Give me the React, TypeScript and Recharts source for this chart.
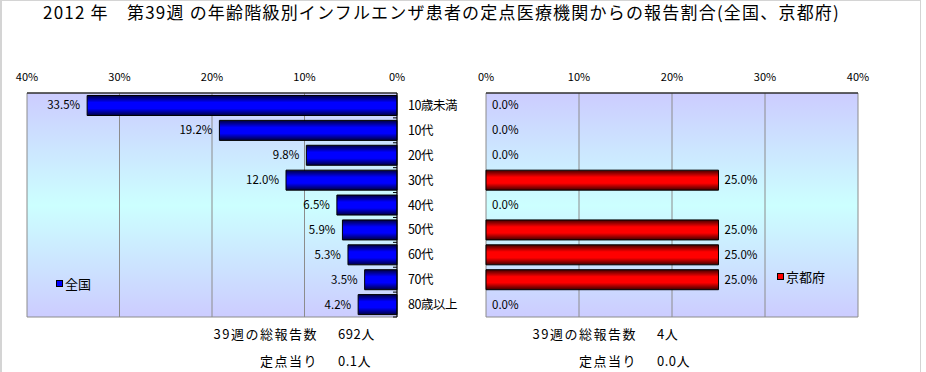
import { BarChart, Bar, XAxis, YAxis, CartesianGrid, LabelList, Legend, Cell } from "recharts";

const ageGroups = ["10歳未満", "10代", "20代", "30代", "40代", "50代", "60代", "70代", "80歳以上"];
const nationalPct = [33.5, 19.2, 9.8, 12.0, 6.5, 5.9, 5.3, 3.5, 4.2];
const kyotoPct = [0, 0, 0, 25.0, 0, 25.0, 25.0, 25.0, 0];
const pctTicks = [0, 10, 20, 30, 40];

const weekNo = 39;
const nationalTotal = "692";
const nationalPerSite = "0.1";
const kyotoTotal = "4";
const kyotoPerSite = "0.0";

const nationalData = ageGroups.map((age, i) => ({ age, value: nationalPct[i] }));
const kyotoData = ageGroups.map((age, i) => ({ age, value: kyotoPct[i] }));

const FONT = '"Noto Sans CJK JP", "Noto Sans", sans-serif';
const CHART_H = 372;
const M_TOP = 63;
const AXIS_H = 30;
const M_BOTTOM = 55;
const BAND = (CHART_H - M_TOP - AXIS_H - M_BOTTOM) / ageGroups.length;

const fmt = (v: number) => `${v.toFixed(1)}%`;

function BgGradient({ id }: { id: string }) {
  return (
    <linearGradient id={id} x1="0" y1="0" x2="0" y2="1">
      <stop offset="0%" stopColor="#CCCCFF" />
      <stop offset="50%" stopColor="#CCFFFF" />
      <stop offset="100%" stopColor="#CCCCFF" />
    </linearGradient>
  );
}

function BarGradient({ id, dark, main }: { id: string; dark: string; main: string }) {
  return (
    <linearGradient id={id} x1="0" y1="0" x2="0" y2="1">
      <stop offset="0%" stopColor={dark} />
      <stop offset="35%" stopColor={main} />
      <stop offset="65%" stopColor={main} />
      <stop offset="100%" stopColor={dark} />
    </linearGradient>
  );
}

function boxOf(p: any) {
  const vb = p.viewBox ?? p;
  return { x: Number(vb.x), y: Number(vb.y), w: Number(vb.width), h: Number(vb.height) };
}

function LeftLabel(p: any) {
  const { x, y, w, h } = boxOf(p);
  return (
    <text x={Math.min(x, x + w) - 7} y={y + h / 2} dy={4} textAnchor="end" fontSize={11.5} fill="#000" fontFamily={FONT}>
      {fmt(Number(p.value))}
    </text>
  );
}

function RightLabel(p: any) {
  const { x, y, w, h } = boxOf(p);
  return (
    <text x={Math.max(x, x + w) + 6} y={y + h / 2} dy={4} textAnchor="start" fontSize={11.5} fill="#000" fontFamily={FONT}>
      {fmt(Number(p.value))}
    </text>
  );
}

// category labels on the right of the left chart + boundary tick marks inside the plot
function AgeTick(p: any) {
  const ax = p.x - 11;
  return (
    <g>
      <line x1={ax - 4} x2={ax} y1={p.y + BAND / 2} y2={p.y + BAND / 2} stroke="#000" />
      <text x={p.x} y={p.y} dy={4.5} fontSize={12.5} letterSpacing={-0.5} fill="#000" fontFamily={FONT}>
        {p.payload.value}
      </text>
    </g>
  );
}

function BoundaryTick(p: any) {
  return <line x1={p.x} x2={p.x + 5} y1={p.y + BAND / 2} y2={p.y + BAND / 2} stroke="#000" />;
}

function SwatchLegend({ payload, swatch }: any) {
  const item = payload?.[0];
  return (
    <div style={{ display: "flex", alignItems: "center", fontSize: 13, color: "#000", fontFamily: FONT, whiteSpace: "nowrap" }}>
      <span style={{ width: 5, height: 5, background: swatch, border: "1px solid #000", marginRight: 2 }} />
      {item?.value}
    </div>
  );
}

const borderRows = ({ offset }: any) => [offset.top, offset.top + offset.height];

const axisTick = { fontSize: 11, fill: "#000", fontFamily: FONT };

function Summary({ right, top, label, value }: { right: number; top: number; label: string; value: string }) {
  return (
    <>
      <div style={{ position: "absolute", left: right - 200, width: 200, top, textAlign: "right", fontSize: 13, letterSpacing: 1.5 }}>
        {label}
      </div>
      <div style={{ position: "absolute", left: right + 20, top, fontSize: 13, letterSpacing: 0.5 }}>{value}</div>
    </>
  );
}

export default function App() {
  return (
    <div
      style={{
        position: "absolute", left: 0, top: 0, width: 926, height: 372, background: "#fff",
        fontFamily: FONT, color: "#000", overflow: "hidden",
      }}
    >
      <div style={{ position: "absolute", left: 0, top: 0, width: 918, height: 380, borderLeft: "2px solid #d4d4d4", borderTop: "1px solid #d4d4d4", borderRight: "1px solid #d4d4d4" }} />
      <div style={{ position: "absolute", left: 43, top: -1, fontSize: 17, letterSpacing: 1.2, whiteSpace: "pre" }}>
        {`2012 年　第${weekNo}週 の年齢階級別インフルエンザ患者の定点医療機関からの報告割合(全国、京都府)`}
      </div>

      <div style={{ position: "absolute", left: 0, top: 0 }}>
        <BarChart width={470} height={CHART_H} data={nationalData} layout="vertical"
          margin={{ top: M_TOP, right: 0, bottom: M_BOTTOM, left: 27 }} barCategoryGap="10%">
          <defs>
            <BgGradient id="bgL" />
            <BarGradient id="barBlue" dark="#000040" main="#0000FF" />
          </defs>
          <CartesianGrid fill="url(#bgL)" stroke="#8c8c8c" horizontalCoordinatesGenerator={borderRows} />
          <XAxis type="number" orientation="top" domain={[0, 40]} ticks={pctTicks} reversed interval={0}
            height={AXIS_H} tickFormatter={(v) => `${v}%`} tick={axisTick} tickLine={false} tickMargin={6}
            axisLine={{ stroke: "#000" }} />
          <YAxis type="category" dataKey="age" orientation="right" width={73} tickSize={0} tickMargin={11}
            tickLine={false} tick={<AgeTick />} axisLine={{ stroke: "#000" }} interval={0} />
          <Legend layout="horizontal" verticalAlign="middle" align="center"
            wrapperStyle={{ left: 56, top: 274, width: "auto" }} content={<SwatchLegend swatch="#0000FF" />} />
          <Bar dataKey="value" name="全国" fill="url(#barBlue)" stroke="#000" strokeWidth={1} isAnimationActive={false}>
            <LabelList dataKey="value" content={<LeftLabel />} />
          </Bar>
        </BarChart>
      </div>

      <div style={{ position: "absolute", left: 470, top: 0 }}>
        <BarChart width={456} height={CHART_H} data={kyotoData} layout="vertical"
          margin={{ top: M_TOP, right: 68, bottom: M_BOTTOM, left: 16 }} barCategoryGap="10%">
          <defs>
            <BgGradient id="bgR" />
            <BarGradient id="barRed" dark="#400000" main="#FF0000" />
          </defs>
          <CartesianGrid fill="url(#bgR)" stroke="#8c8c8c" horizontalCoordinatesGenerator={borderRows} />
          <XAxis type="number" orientation="top" domain={[0, 40]} ticks={pctTicks} interval={0}
            height={AXIS_H} tickFormatter={(v) => `${v}%`} tick={axisTick} tickLine={false} tickMargin={6}
            axisLine={{ stroke: "#000" }} />
          <YAxis type="category" dataKey="age" orientation="left" width={0} tickSize={0} tickMargin={0}
            tickLine={false} tick={<BoundaryTick />} axisLine={{ stroke: "#000" }} interval={0} />
          <Legend layout="horizontal" verticalAlign="middle" align="center"
            wrapperStyle={{ left: 307, top: 267, width: "auto" }} content={<SwatchLegend swatch="#FF0000" />} />
          {/* tiny minPointSize keeps the 0% entries so their labels still render */}
          <Bar dataKey="value" name="京都府" fill="url(#barRed)" strokeWidth={1}
            minPointSize={0.01} isAnimationActive={false}>
            {kyotoData.map((d, i) => (
              <Cell key={i} stroke={d.value > 0 ? "#000" : "none"} />
            ))}
            <LabelList dataKey="value" content={<RightLabel />} />
          </Bar>
        </BarChart>
      </div>

      <Summary right={318} top={324} label={`${weekNo}週の総報告数`} value={`${nationalTotal}人`} />
      <Summary right={318} top={351} label="定点当り" value={`${nationalPerSite}人`} />
      <Summary right={637} top={324} label={`${weekNo}週の総報告数`} value={`${kyotoTotal}人`} />
      <Summary right={637} top={351} label="定点当り" value={`${kyotoPerSite}人`} />
    </div>
  );
}
